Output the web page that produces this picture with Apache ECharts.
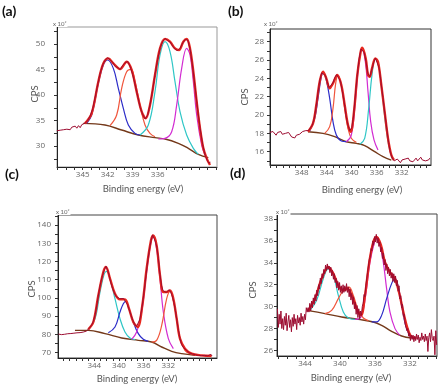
<!DOCTYPE html>
<html>
<head>
<meta charset="utf-8">
<script src="https://cdn.jsdelivr.net/npm/echarts@6/dist/echarts.min.js"></script>
<style>
html, body { margin: 0; padding: 0; background: #fff; }
#chart { width: 439px; height: 390px; }
</style>
</head>
<body>
<div id="chart"></div>
<script>
// ---- panel (a) : [binding energy eV, CPS x100]
const aRaw = [[348.1,33.0],[347.9,33.3],[347.7,33.1],[347.5,33.4],[347.3,33.2],[347.1,33.5],[346.9,33.3],[346.7,33.6],[346.5,33.2],[346.3,33.7],[346.1,33.4],[345.9,33.9],[345.7,33.5],[345.5,34.0],[345.3,33.6],[345.1,34.2],[344.9,33.9],[344.7,34.5],[344.4,35.0],[344.1,35.9],[343.8,37.3],[343.5,39.6],[343.2,42.0],[342.9,44.3],[342.6,45.9],[342.3,46.9],[342.0,47.3],[341.7,46.9],[341.4,46.4],[341.1,45.6],[340.8,45.4],[340.5,45.0],[340.2,45.8],[339.9,46.3],[339.6,46.6],[339.3,45.6],[339.0,44.0],[338.7,42.0],[338.4,39.8],[338.1,37.6],[337.8,36.2],[337.5,35.3],[337.2,36.1],[336.9,38.2],[336.6,41.0],[336.3,44.2],[336.0,47.0],[335.7,49.3],[335.4,50.5],[335.1,51.1],[334.8,50.7],[334.5,50.4],[334.2,49.6],[333.9,49.0],[333.6,48.7],[333.3,49.2],[333.0,50.2],[332.7,50.9],[332.4,50.8],[332.1,49.0],[331.8,45.5],[331.5,41.5],[331.2,37.2],[330.9,33.4],[330.6,30.3],[330.3,28.2],[330.0,27.0],[329.8,26.6],[329.7,26.9]];
const aFit = [[344.72,34.45],[343.92,36.41],[343.12,42.62],[342.52,46.21],[341.92,47.19],[341.32,46.21],[340.52,45.1],[339.72,46.54],[339.12,44.91],[338.52,40.66],[337.92,36.74],[337.44,35.43],[336.92,38.04],[336.32,43.93],[335.72,49.15],[335.12,50.98],[334.52,50.46],[333.92,49.15],[333.44,48.83],[332.92,50.46],[332.52,50.98],[332.12,49.15],[331.72,44.58],[331.32,38.7],[330.92,33.47],[330.52,29.55],[330.12,27.59],[329.72,26.28]];
const aBg = [[344.92,34.45],[342.32,34.12],[340.32,33.14],[338.32,32.16],[336.32,31.64],[335.12,31.38],[333.52,30.53],[332.32,29.55],[331.12,28.37],[329.92,27.72]];
const aBlue = [[344.52,34.45],[343.92,36.08],[343.12,42.29],[342.52,45.89],[342.0,46.87],[341.32,45.23],[340.72,41.31],[340.12,37.39],[339.52,34.12],[338.72,32.49],[338.12,32.16]];
const aRed = [[341.72,33.99],[340.92,36.08],[340.32,41.31],[339.72,44.58],[339.2,45.04],[338.72,42.62],[338.12,38.04],[337.52,34.12],[336.92,32.49],[336.32,31.83]];
const aCyan = [[338.12,32.16],[337.12,34.12],[336.32,40.66],[335.72,47.85],[335.12,50.46],[334.52,48.5],[333.92,42.62],[333.32,36.74],[332.52,32.16],[331.72,29.55],[331.12,28.37]];
const aMag = [[335.92,31.38],[335.12,31.51],[334.32,32.81],[333.72,38.04],[333.12,45.23],[332.52,49.15],[332.12,47.85],[331.72,42.62],[331.32,36.08],[330.72,30.2],[330.32,28.24]];
const aXLabels = [345, 342, 339, 336];
const aYLabels = [30, 35, 40, 45, 50];

// ---- panel (b)
const bRaw = [[353.1,18.1],[352.85,17.9],[352.6,18.2],[352.35,18.0],[352.1,17.8],[351.85,18.1],[351.6,17.9],[351.35,18.2],[351.1,17.9],[350.85,17.7],[350.6,18.0],[350.35,17.8],[350.1,18.1],[349.85,17.9],[349.6,17.6],[349.35,17.8],[349.1,17.5],[348.85,17.8],[348.6,17.6],[348.35,17.9],[348.1,18.0],[347.85,18.2],[347.6,18.0],[347.35,18.3],[347.1,18.1],[346.9,18.3],[346.6,18.5],[346.3,18.9],[346.0,19.6],[345.7,20.9],[345.4,22.4],[345.1,23.8],[344.8,24.6],[344.5,24.8],[344.2,24.3],[343.9,23.6],[343.6,23.0],[343.3,23.0],[343.0,23.5],[342.7,24.1],[342.4,24.4],[342.1,24.2],[341.8,23.7],[341.5,22.6],[341.2,21.4],[340.9,19.9],[340.6,18.9],[340.3,18.3],[340.0,18.6],[339.7,19.9],[339.4,22.3],[339.1,24.4],[338.8,26.2],[338.5,27.2],[338.3,27.4],[338.0,26.8],[337.7,25.8],[337.4,24.5],[337.1,24.2],[336.8,24.9],[336.5,25.7],[336.2,26.2],[335.9,26.0],[335.6,25.1],[335.3,23.5],[335.0,21.9],[334.7,20.2],[334.4,18.6],[334.1,17.0],[333.8,15.9],[333.5,15.3],[333.2,15.0],[332.95,14.9],[332.7,15.2],[332.45,15.0],[332.2,14.8],[331.95,15.1],[331.7,14.9],[331.45,15.2],[331.2,15.0],[330.95,15.3],[330.7,15.0],[330.45,15.2],[330.2,14.9],[329.95,15.1],[329.7,15.3],[329.45,15.0],[329.2,15.2],[328.95,15.4],[328.7,15.1],[328.45,15.3],[328.2,15.0],[327.95,15.2],[327.7,15.1],[327.5,15.3]];
const bFit = [[346.99,18.18],[346.19,19.09],[345.66,21.09],[345.12,23.64],[344.59,24.73],[344.06,24.0],[343.52,22.91],[342.99,23.46],[342.3,24.37],[341.66,23.27],[341.12,21.09],[340.59,18.91],[340.16,18.18],[339.63,20.37],[339.1,24.37],[338.56,26.91],[338.3,27.35],[337.76,26.18],[337.39,24.37],[337.12,24.18],[336.75,25.09],[336.22,26.18],[335.79,25.82],[335.26,23.27],[334.73,20.37],[334.19,17.46],[333.66,15.64],[333.23,15.09]];
const bBg = [[346.99,18.18],[344.59,18.0],[342.72,17.64],[340.86,17.09],[339.26,16.91],[337.92,16.66],[336.32,16.0],[334.99,15.46],[333.66,15.09]];
const bBlue = [[346.72,18.26],[345.92,19.64],[345.39,21.82],[344.86,24.18],[344.54,24.66],[344.06,23.82],[343.52,21.82],[342.99,19.28],[342.46,17.82],[341.66,17.17],[340.86,17.09]];
const bRed = [[344.32,18.0],[343.52,18.73],[342.99,20.73],[342.56,23.46],[342.19,24.29],[341.66,23.27],[341.12,20.73],[340.59,18.55],[340.06,17.46],[339.26,17.02]];
const bMag = [[340.86,17.09],[340.06,17.82],[339.42,21.46],[338.88,25.46],[338.35,27.2],[337.82,25.82],[337.39,22.55],[336.96,19.28],[336.43,17.28],[335.79,16.18]];
const bCyan = [[338.72,16.8],[337.92,17.46],[337.28,20.73],[336.75,24.37],[336.22,26.11],[335.68,25.46],[335.15,22.55],[334.62,19.28],[334.08,16.73],[333.55,15.28]];
const bXLabels = [348, 344, 340, 336, 332];
const bYLabels = [16, 18, 20, 22, 24, 26, 28];

// ---- panel (c)
const cRaw = [[349.8,80.2],[349.55,80.8],[349.3,79.9],[349.05,80.6],[348.8,80.1],[348.55,81.0],[348.3,80.4],[348.05,81.2],[347.8,80.5],[347.55,81.3],[347.3,80.7],[347.05,81.6],[346.8,80.9],[346.55,81.4],[346.3,81.0],[346.05,81.8],[345.8,81.3],[345.55,82.2],[345.3,81.8],[345.05,82.7],[344.75,83.6],[344.45,85.0],[344.15,87.2],[343.85,91.0],[343.55,96.8],[343.25,103.2],[342.95,108.6],[342.65,112.5],[342.35,115.6],[342.1,117.4],[341.85,115.2],[341.6,112.6],[341.35,108.8],[341.05,105.4],[340.75,102.9],[340.45,100.8],[340.15,99.9],[339.85,99.6],[339.55,99.1],[339.25,99.7],[338.95,98.8],[338.65,96.5],[338.35,93.8],[338.05,90.6],[337.75,87.7],[337.45,85.6],[337.15,84.3],[336.9,84.6],[336.6,88.4],[336.3,94.0],[336.0,101.5],[335.7,109.8],[335.4,118.5],[335.1,125.8],[334.8,131.3],[334.55,134.6],[334.35,133.8],[334.1,131.0],[333.85,127.9],[333.6,121.6],[333.35,113.0],[333.1,107.0],[332.85,104.0],[332.6,103.4],[332.35,103.0],[332.1,103.8],[331.85,104.5],[331.6,103.2],[331.35,101.0],[331.1,97.6],[330.85,93.2],[330.6,87.6],[330.35,82.3],[330.1,77.7],[329.85,74.6],[329.6,73.1],[329.35,72.1],[329.1,71.4],[328.85,70.6],[328.6,70.0],[328.35,69.6],[328.1,69.3],[327.85,69.0],[327.6,68.9],[327.35,68.7],[327.1,68.5],[326.85,68.6],[326.6,68.4],[326.35,68.3],[326.1,68.5],[325.85,68.2],[325.6,68.3],[325.35,68.1],[325.1,69.1],[324.9,68.2]];
const cFit = [[344.97,82.8],[344.15,86.82],[343.34,101.44],[342.53,114.23],[342.1,116.98],[341.45,110.58],[340.64,102.36],[339.83,99.25],[339.02,99.25],[338.37,94.13],[337.67,86.82],[336.97,84.08],[336.21,95.96],[335.51,116.06],[334.8,131.6],[334.43,134.34],[333.89,128.86],[333.34,112.41],[332.8,103.27],[332.26,103.27],[331.72,104.18],[331.18,99.62],[330.64,88.65],[330.1,77.68],[329.29,72.2],[328.21,69.46],[326.59,68.55],[324.97,68.18]];
const cBg = [[347.13,82.25],[344.97,82.25],[342.26,80.43],[339.56,78.05],[336.86,76.77],[334.7,75.86],[333.07,73.12],[331.45,70.74],[329.83,69.46],[327.67,68.55]];
const cCyan = [[344.97,82.8],[343.88,88.65],[343.07,103.27],[342.37,113.32],[341.99,114.6],[341.45,110.58],[340.64,99.62],[339.83,88.65],[339.02,81.34],[338.21,78.05],[337.4,77.14]];
const cBlue = [[341.72,80.97],[340.64,84.08],[339.83,92.31],[339.29,96.87],[338.91,98.15],[338.37,94.13],[337.67,86.82],[336.86,80.43],[336.05,77.32],[335.24,76.22]];
const cMag = [[337.94,77.32],[337.13,81.34],[336.32,92.31],[335.51,114.24],[334.8,130.68],[334.43,133.42],[333.89,127.03],[333.34,110.58],[332.8,92.31],[331.99,77.68],[331.18,72.2]];
const cRed = [[334.7,75.86],[333.89,76.77],[333.07,85.0],[332.26,99.62],[331.72,103.64],[331.18,98.7],[330.64,88.65],[330.1,77.68],[329.29,71.29],[328.48,69.46]];
const cXLabels = [344, 340, 336, 332];
const cYLabels = [70, 80, 90, 100, 110, 120, 130, 140];

// ---- panel (d)
const dRaw = [[347.15,29.8],[347.05,28.1],[346.95,29.3],[346.85,28.4],[346.75,29.6],[346.65,28.0],[346.55,28.9],[346.45,27.9],[346.35,29.1],[346.25,28.3],[346.15,29.4],[346.05,27.8],[345.95,28.6],[345.85,29.2],[345.75,28.1],[345.65,28.8],[345.55,27.7],[345.45,29.0],[345.35,28.2],[345.25,29.3],[345.15,28.4],[345.05,28.9],[344.95,27.9],[344.85,29.2],[344.75,28.5],[344.65,29.0],[344.55,28.3],[344.45,29.4],[344.35,28.6],[344.25,29.1],[344.15,28.4],[344.05,29.3],[343.95,28.8],[343.85,29.9],[343.75,29.5],[343.65,29.9],[343.55,29.5],[343.45,30.3],[343.35,29.6],[343.25,30.5],[343.15,29.9],[343.05,30.8],[342.95,30.2],[342.85,31.1],[342.75,30.5],[342.65,31.5],[342.55,31.0],[342.45,32.0],[342.35,31.6],[342.25,32.6],[342.15,32.1],[342.05,33.0],[341.95,32.6],[341.85,33.4],[341.75,33.0],[341.65,33.8],[341.55,33.3],[341.45,33.9],[341.35,33.4],[341.25,33.7],[341.15,33.1],[341.05,33.6],[340.95,32.8],[340.85,33.3],[340.75,32.5],[340.65,33.0],[340.55,32.2],[340.45,32.6],[340.35,31.7],[340.25,32.3],[340.15,31.5],[340.05,32.2],[339.95,31.3],[339.85,31.9],[339.75,31.2],[339.65,32.0],[339.55,31.3],[339.45,31.9],[339.35,31.4],[339.25,32.1],[339.15,31.3],[339.05,31.8],[338.95,30.9],[338.85,31.6],[338.75,30.6],[338.65,31.2],[338.55,30.2],[338.45,30.9],[338.35,29.8],[338.25,30.4],[338.15,29.3],[338.05,30.1],[337.95,29.0],[337.85,29.8],[337.75,28.9],[337.65,29.6],[337.55,29.2],[337.45,30.0],[337.35,30.3],[337.25,31.1],[337.15,30.9],[337.05,31.9],[336.95,32.0],[336.85,33.1],[336.75,33.2],[336.65,34.3],[336.55,34.5],[336.45,35.3],[336.35,35.1],[336.25,36.0],[336.15,35.6],[336.05,36.4],[335.95,35.9],[335.85,36.6],[335.75,35.8],[335.65,36.3],[335.55,35.5],[335.45,35.9],[335.35,35.0],[335.25,35.4],[335.15,34.4],[335.05,34.9],[334.95,33.8],[334.85,34.3],[334.75,33.3],[334.65,33.9],[334.55,33.0],[334.45,33.6],[334.35,32.8],[334.25,33.4],[334.15,32.6],[334.05,33.1],[333.95,32.3],[333.85,33.0],[333.75,32.2],[333.65,32.8],[333.55,31.9],[333.45,32.4],[333.35,31.4],[333.25,31.9],[333.15,30.7],[333.05,31.0],[332.95,29.9],[332.85,30.2],[332.75,29.1],[332.65,29.3],[332.55,28.4],[332.45,28.5],[332.35,27.8],[332.25,28.0],[332.15,27.3],[332.05,27.6],[331.95,26.9],[331.85,27.4],[331.75,27.0],[331.65,27.4],[331.55,26.8],[331.45,27.3],[331.35,26.9],[331.25,27.5],[331.15,27.0],[331.05,27.4],[330.95,26.7],[330.85,27.2],[330.75,26.9],[330.65,27.6],[330.55,27.0],[330.45,27.3],[330.35,26.8],[330.25,27.5],[330.15,26.9],[330.05,27.3],[329.95,25.9],[329.85,27.2],[329.75,27.6],[329.65,26.8],[329.55,27.9],[329.45,27.1],[329.35,26.9],[329.25,27.3],[329.15,25.6],[329.05,27.8],[328.95,26.5]];
const dFit = [[343.62,29.66],[342.86,30.73],[342.1,32.55],[341.33,33.62],[340.76,33.01],[340.19,31.94],[339.62,31.49],[339.12,31.64],[338.59,30.88],[338.1,29.81],[337.6,29.2],[337.14,31.03],[336.65,34.07],[336.19,35.9],[335.81,36.36],[335.31,35.6],[334.86,34.07],[334.29,33.16],[333.71,32.55],[333.26,31.33],[332.76,29.51],[332.27,27.99],[331.81,27.23],[331.24,27.13]];
const dBg = [[343.62,29.63],[341.72,29.36],[339.81,29.05],[337.91,28.84],[336.19,28.6],[335.24,28.29],[334.1,27.74],[332.95,27.32],[331.81,27.13]];
const dCyan = [[343.43,29.66],[342.67,30.57],[341.91,32.55],[341.33,33.47],[340.76,32.86],[340.19,31.03],[339.62,29.51],[339.05,28.96],[338.29,28.84]];
const dRed = [[341.72,29.36],[340.95,29.66],[340.19,30.73],[339.43,31.7],[338.97,31.79],[338.48,31.03],[337.91,29.66],[337.33,28.96],[336.76,28.72]];
const dMag = [[338.29,28.84],[337.6,29.05],[337.07,31.03],[336.57,34.07],[336.0,36.05],[335.81,36.2],[335.43,35.6],[335.05,34.07],[334.67,31.64],[334.29,29.51],[333.71,27.99],[333.14,27.38]];
const dBlue = [[336.38,28.6],[335.81,28.6],[335.24,29.2],[334.67,30.73],[334.1,32.1],[333.71,32.55],[333.33,31.79],[332.95,30.12],[332.5,28.29],[332.0,27.32],[331.62,27.13]];
const dXLabels = [344, 340, 336, 332];
const dYLabels = [26, 28, 30, 32, 34, 36, 38];

const C_RAW = '#9c0c30', C_FIT = '#e8281e', C_BG = '#74391a';
const C_BLUE = '#2c2cc8', C_RED = '#f0553c', C_CYAN = '#2ec6c6', C_MAG = '#d22cd2';

function steps(min, max, step) {
    let out = [];
    for (let v = Math.ceil(min / step) * step; v <= max + 1e-9; v += step) {
        out.push(+v.toFixed(2));
    }
    return out;
}

function makeX(idx, min, max, labels) {
    return {
        type: 'value', gridIndex: idx, inverse: true, min: min, max: max,
        axisLine: { show: true, onZero: false, lineStyle: { color: '#222', width: 1 } },
        axisTick: { show: true, length: 3, lineStyle: { color: '#333' }, customValues: steps(min, max, 1) },
        axisLabel: { customValues: labels, fontSize: 8, color: '#666', margin: 4, fontFamily: 'Open Sans' },
        splitLine: { show: false }
    };
}

function makeY(idx, min, max, labels, tickStep, margin) {
    return {
        type: 'value', gridIndex: idx, min: min, max: max,
        axisLine: { show: true, onZero: false, lineStyle: { color: '#222', width: 1 } },
        axisTick: { show: true, length: 3, lineStyle: { color: '#333' }, customValues: steps(min, max, tickStep) },
        axisLabel: { customValues: labels, fontSize: 8, color: '#666', margin: margin, fontFamily: 'Open Sans' },
        splitLine: { show: false }
    };
}

function line(idx, data, color, width, smooth) {
    return {
        type: 'line', xAxisIndex: idx, yAxisIndex: idx, data: data,
        showSymbol: false, smooth: smooth, silent: true,
        lineStyle: { color: color, width: width }
    };
}

function panelSeries(idx, raw, fit, bg, comps) {
    let list = [line(idx, bg, C_BG, 1.4, 0.4)];
    comps.forEach(function (c) { list.push(line(idx, c[0], c[1], 1.2, 0.4)); });
    list.push(line(idx, fit, C_FIT, 2.4, 0.35));
    list.push(line(idx, raw, C_RAW, 1, false));
    return list;
}

function txt(x, y, text, size, opts) {
    let o = opts || {};
    return {
        type: 'text', x: x, y: y, rotation: o.rot || 0, z: 100,
        style: {
            text: text, fontSize: size, fontFamily: o.font || 'Lato', fontWeight: o.weight || 'normal',
            fill: o.color || '#555', align: o.align || 'center', verticalAlign: 'middle',
            backgroundColor: o.bgc || 'transparent', padding: o.pad || 0
        }
    };
}

let chart = echarts.init(document.getElementById('chart'), null, { renderer: 'canvas' });

let option = {
    animation: false,
    backgroundColor: '#fff',
    grid: [
        { left: 57, top: 27, width: 160, height: 140, show: true, borderColor: '#999', borderWidth: 1 },
        { left: 270, top: 29, width: 161, height: 136, show: true, borderColor: '#333', borderWidth: 1 },
        { left: 58, top: 215, width: 159, height: 143, show: true, borderColor: '#444', borderWidth: 1 },
        { left: 277, top: 214, width: 160, height: 142, show: true, borderColor: '#444', borderWidth: 1 }
    ],
    xAxis: [
        makeX(0, 328.88, 348.08, aXLabels),
        makeX(1, 327.31, 353.07, bXLabels),
        makeX(2, 324.1, 349.88, cXLabels),
        makeX(3, 328.91, 347.2, dXLabels)
    ],
    yAxis: [
        makeY(0, 25.89, 53.34, aYLabels, 2.5, 12),
        makeY(1, 14.55, 29.38, bYLabels, 1, 6),
        makeY(2, 67.09, 145.49, cYLabels, 5, 7),
        makeY(3, 25.49, 38.46, dYLabels, 1, 4)
    ],
    series: [].concat(
        panelSeries(0, aRaw, aFit, aBg, [[aBlue, C_BLUE], [aRed, C_RED], [aCyan, C_CYAN], [aMag, C_MAG]]),
        panelSeries(1, bRaw, bFit, bBg, [[bBlue, C_BLUE], [bRed, C_RED], [bMag, C_MAG], [bCyan, C_CYAN]]),
        panelSeries(2, cRaw, cFit, cBg, [[cCyan, C_CYAN], [cBlue, C_BLUE], [cMag, C_MAG], [cRed, C_RED]]),
        panelSeries(3, dRaw, dFit, dBg, [[dCyan, C_CYAN], [dRed, C_RED], [dMag, C_MAG], [dBlue, C_BLUE]])
    ),
    graphic: [
        txt(2, 11, '(a)', 14, { weight: 'bold', color: '#111', align: 'left' }),
        txt(228, 11, '(b)', 14, { weight: 'bold', color: '#111', align: 'left' }),
        txt(5, 174, '(c)', 14, { weight: 'bold', color: '#111', align: 'left' }),
        txt(230, 173, '(d)', 14, { weight: 'bold', color: '#111', align: 'left' }),
        txt(52, 24, 'x 10\u00b2', 6, { align: 'left', color: '#666', bgc: '#fff', pad: [0, 1] }),
        txt(263, 24, 'x 10\u00b2', 6, { align: 'left', color: '#666', bgc: '#fff', pad: [0, 1] }),
        txt(55, 212, 'x 10\u00b2', 6, { align: 'left', color: '#666', bgc: '#fff', pad: [0, 1] }),
        txt(275, 212, 'x 10\u00b2', 6, { align: 'left', color: '#666', bgc: '#fff', pad: [0, 1] }),
        txt(143, 189, 'Binding energy (eV)', 9.5),
        txt(362, 190, 'Binding energy (eV)', 9.5),
        txt(137, 379, 'Binding energy (eV)', 9.5),
        txt(351, 378, 'Binding energy (eV)', 9.5),
        txt(35, 94, 'CPS', 9.5, { rot: Math.PI / 2 }),
        txt(245, 97, 'CPS', 9.5, { rot: Math.PI / 2 }),
        txt(32, 289, 'CPS', 9.5, { rot: Math.PI / 2 }),
        txt(253, 290, 'CPS', 9.5, { rot: Math.PI / 2 })
    ]
};
chart.setOption(option);
</script>
</body>
</html>
